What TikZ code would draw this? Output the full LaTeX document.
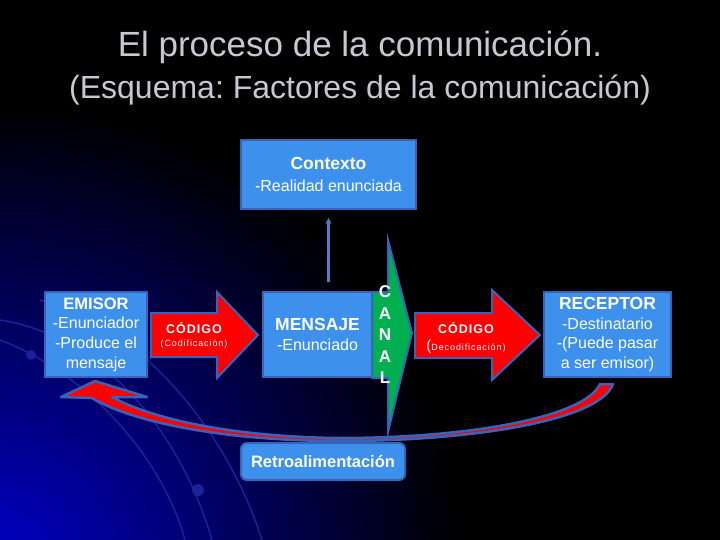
\documentclass[tikz,border=0pt]{standalone}
\usepackage{fontspec}
\setmainfont{Liberation Sans}
\usepackage{tikz}
\usetikzlibrary{arrows.meta}
\definecolor{boxblue}{RGB}{61,145,237}
\definecolor{edgeblue}{RGB}{55,100,185}
\definecolor{canalgreen}{RGB}{0,176,80}
\definecolor{titlegray}{RGB}{200,200,210}
\definecolor{bgblue}{RGB}{0,0,200}
\definecolor{swirl}{RGB}{25,35,150}
\frenchspacing

\begin{document}
\begin{tikzpicture}[x=1pt,y=-1pt,
  box/.style={fill=boxblue,draw=edgeblue,line width=2pt,text=white,align=center,inner sep=0pt,font=\fontsize{16}{19.6}\selectfont},
  blockarrow/.style={fill=red,draw=edgeblue,line width=2pt,line join=miter},
  smalltext/.style={text=white,align=center,inner sep=0pt}]
\useasboundingbox (0,0) rectangle (720,540);

%Background
\fill[black] (0,0) rectangle (720,540);
\begin{scope}
\clip (0,0) rectangle (720,540);
\shade[inner color=bgblue,outer color=black] (-10,570) circle (470pt);
\draw[swirl,line width=1.5pt] (0,320) .. controls (100,335) and (180,430) .. (212,540);
\draw[swirl,line width=1.5pt] (40,300) .. controls (150,330) and (230,440) .. (262,540);
\draw[swirl,line width=1.5pt] (0,340) .. controls (80,370) and (160,450) .. (185,540);
\fill[swirl] (31,355) circle (5pt);
\fill[swirl] (198,490) circle (6pt);
\end{scope}

%Title
\node[titlegray,font=\fontsize{35}{40}\selectfont] (titulo) at (360,47) {El proceso de la comunicación.};
\node[titlegray,font=\fontsize{32}{36}\selectfont] (subtitulo) at (360,90) {(Esquema: Factores de la comunicación)};

%Boxes
\node[box,minimum width=175pt,minimum height=69pt,font=\fontsize{16}{22}\selectfont] (contexto) at (328.5,174.5)
  {{\bfseries\fontsize{17.5}{22}\selectfont Contexto}\\-Realidad enunciada};
\node[box,minimum width=102pt,minimum height=85pt] (emisor) at (96,334.5)
  {{\bfseries\fontsize{16.5}{19.6}\selectfont EMISOR}\\-Enunciador\\-Produce el\\mensaje};
\node[box,minimum width=109pt,minimum height=85pt] (mensaje) at (317.5,334.5)
  {{\bfseries\fontsize{17.5}{20}\selectfont MENSAJE}\\-Enunciado};
\node[box,minimum width=127pt,minimum height=85pt] (receptor) at (607.5,334.5)
  {{\bfseries\fontsize{17.5}{19.6}\selectfont RECEPTOR}\\-Destinatario\\-(Puede pasar\\a ser emisor)};

\draw[edgeblue!85!white,line width=2.4pt,-{Stealth[length=6pt,width=6pt]},shorten <=9pt,shorten >=8pt]
  (contexto.south |- mensaje.north) -- (contexto.south);

%Codificacion
\draw[blockarrow] (151,313) -- (217,313) -- (217,292) -- (258,335) -- (217,378) -- (217,357) -- (151,357) -- cycle;
\node[smalltext,font=\bfseries\fontsize{12.5}{14}\selectfont\addfontfeature{LetterSpace=8}] (codigo) at (194,328) {CÓDIGO};
\node[smalltext,font=\fontsize{9}{10}\selectfont\addfontfeature{LetterSpace=10}] (codif) at (194,344) {(Codificación)};

%Canal
\draw[fill=canalgreen,draw=edgeblue,line width=2pt,line join=miter]
  (388,240) -- (412,333) -- (388,432) -- (388,378) -- (372,378) -- (372,292) -- (388,292) -- cycle;
\node[smalltext,font=\bfseries\fontsize{17}{21.5}\selectfont] (canal) at (385,335) {C\\A\\N\\A\\L};

%Decodificacion
\draw[blockarrow] (415,313) -- (492,313) -- (492,290) -- (540,335) -- (492,380) -- (492,358) -- (415,358) -- cycle;
\node[smalltext,font=\bfseries\fontsize{12.5}{14}\selectfont\addfontfeature{LetterSpace=8}] (codigo2) at (466,328) {CÓDIGO};
\node[smalltext,font=\fontsize{9}{10}\selectfont\addfontfeature{LetterSpace=10}] (decodif) at (466,347)
  {{\fontsize{15}{15}\selectfont(}Decodificación)};

%Feedback
\draw[blockarrow,line width=2.5pt,line join=round]
  (61,397) -- (95,381) -- (147,397) -- (112,397)
  .. controls (150,418) and (230,437) .. (340,438)
  .. controls (470,438) and (585,417) .. (600,384)
  -- (613,384)
  .. controls (600,421) and (470,441) .. (340,441)
  .. controls (220,441) and (130,421) .. (92,398)
  -- cycle;
\node[box,rounded corners=6pt,minimum width=164pt,minimum height=37pt,font=\bfseries\fontsize{16.5}{20}\selectfont] (retro) at (323,461.5) {Retroalimentación};

\end{tikzpicture}
\end{document}
